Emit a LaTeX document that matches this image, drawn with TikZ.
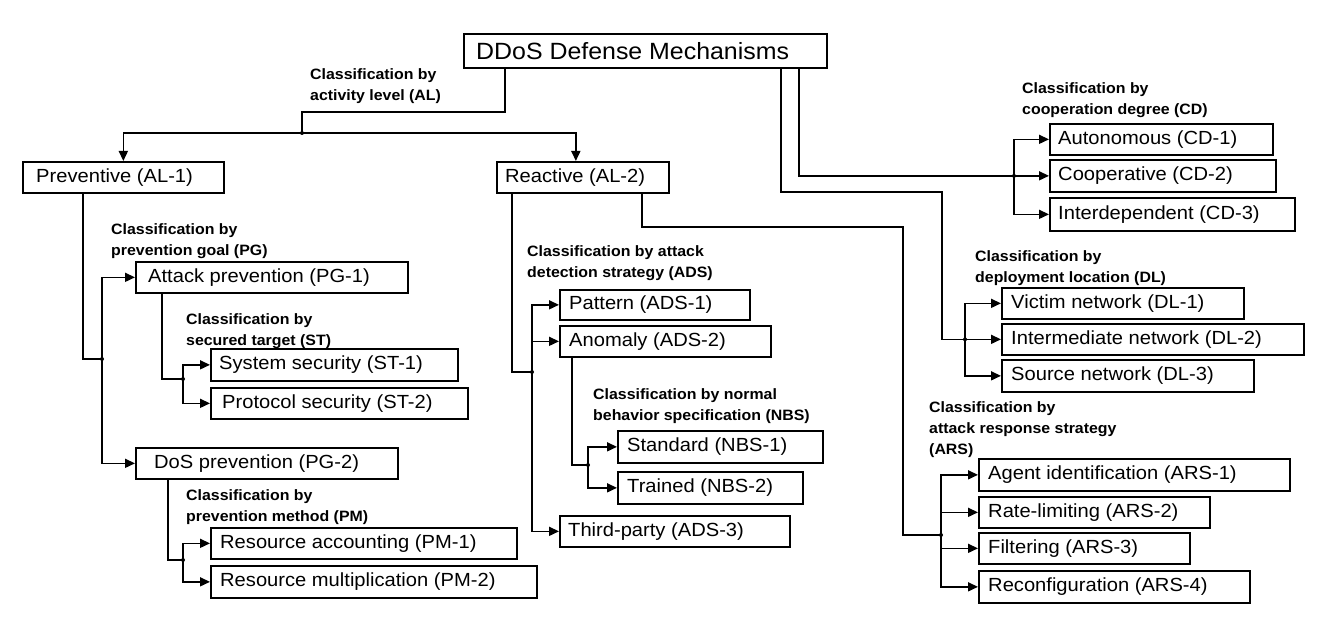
\documentclass[tikz,border=0pt]{standalone}
\usepackage{fontspec}
\setmainfont[FakeStretch=1.06]{Liberation Sans}
\usetikzlibrary{arrows.meta}
\newcommand\bx[7]{%
  \pgfmathsetmacro\bxw{#4-#2}\pgfmathsetmacro\bxh{#5-#3}%
  \node[box,anchor=north west,minimum width=\bxw pt,minimum height=\bxh pt] (#1) at (#2,#3) {};
  \node[txt,anchor=west] (#1-t) at ([xshift=#6pt]#1.west) {#7};}
\begin{document}
\begin{tikzpicture}[x=1pt,y=-1pt,
  box/.style={draw, line width=1.7pt, inner sep=0pt},
  txt/.style={inner sep=0pt, font=\fontsize{19}{23}\selectfont},
  lab/.style={inner sep=0pt, align=left, anchor=north west, font=\fontsize{15}{21}\selectfont\bfseries},
  ln/.style={line width=1.6pt},
  arr/.style={line width=1.6pt, -{Triangle[length=10pt,width=9pt]}},
  dot/.style={circle, fill, inner sep=0pt, minimum size=4pt}]
\useasboundingbox (0,0) rectangle (1322,628);
% boxes
\bx{root}{463}{33}{826}{67}{13}{\fontsize{23.5}{27}\selectfont DDoS Defense Mechanisms}
\bx{pre}{22}{161}{223}{192}{14}{Preventive (AL-1)}
\bx{rea}{496}{161}{668}{192}{9}{Reactive (AL-2)}
\bx{cd1}{1049}{123}{1272}{154}{9}{Autonomous (CD-1)}
\bx{cd2}{1049}{159}{1275}{191}{9}{Cooperative (CD-2)}
\bx{cd3}{1049}{197}{1294}{230}{9}{Interdependent (CD-3)}
\bx{dl1}{1001}{287}{1243}{318}{10}{Victim network (DL-1)}
\bx{dl2}{1001}{323}{1303}{354}{10}{Intermediate network (DL-2)}
\bx{dl3}{1001}{359}{1253}{391}{10}{Source network (DL-3)}
\bx{ars1}{978}{458}{1289}{490}{10}{Agent identification (ARS-1)}
\bx{ars2}{978}{496}{1209}{527}{10}{Rate-limiting (ARS-2)}
\bx{ars3}{978}{532}{1189}{563}{10}{Filtering (ARS-3)}
\bx{ars4}{978}{570}{1249}{602}{10}{Reconfiguration (ARS-4)}
\bx{pg1}{135}{261}{407}{292}{13}{Attack prevention (PG-1)}
\bx{st1}{210}{348}{457}{380}{9}{System security (ST-1)}
\bx{st2}{210}{387}{467}{418}{12}{Protocol security (ST-2)}
\bx{pg2}{135}{447}{397}{478}{19}{DoS prevention (PG-2)}
\bx{pm1}{210}{527}{516}{558}{10}{Resource accounting (PM-1)}
\bx{pm2}{210}{565}{536}{597}{10}{Resource multiplication (PM-2)}
\bx{ads1}{559}{289}{749}{319}{10}{Pattern (ADS-1)}
\bx{ads2}{559}{325}{770}{356}{10}{Anomaly (ADS-2)}
\bx{ads3}{559}{515}{789}{546}{9}{Third-party (ADS-3)}
\bx{nbs1}{617}{430}{822}{462}{10}{Standard (NBS-1)}
\bx{nbs2}{617}{471}{802}{503}{10}{Trained (NBS-2)}
% labels
\node[lab] (l-al) at (310,68) {Classification by\\activity level (AL)};
\node[lab] (l-cd) at (1022,82) {Classification by\\cooperation degree (CD)};
\node[lab] (l-dl) at (975,250) {Classification by\\deployment location (DL)};
\node[lab] (l-ars) at (929,401) {Classification by\\attack response strategy\\(ARS)};
\node[lab] (l-pg) at (111,223) {Classification by\\prevention goal (PG)};
\node[lab] (l-st) at (186,313) {Classification by\\secured target (ST)};
\node[lab] (l-pm) at (186,489) {Classification by\\prevention method (PM)};
\node[lab] (l-ads) at (527,245) {Classification by attack\\detection strategy (ADS)};
\node[lab] (l-nbs) at (593,388) {Classification by normal\\behavior specification (NBS)};
% coordinates
\coordinate (al1) at (505,112); \coordinate (al2) at (302,112); \coordinate (alb) at (302,133);
\coordinate (xcd) at (799,0); \coordinate (xcdb) at (1014,0);
\coordinate (xdl) at (781,0); \coordinate (dlk) at (942,192); \coordinate (xdlb) at (965,0);
\coordinate (xpg) at (83,0); \coordinate (pgj) at (102,359);
\coordinate (xst) at (162,0); \coordinate (stj) at (183,379);
\coordinate (xpm) at (168,0); \coordinate (pmj) at (183,560);
\coordinate (xads) at (512,0); \coordinate (adsj) at (532,372);
\coordinate (xnbs) at (572,0); \coordinate (nbsj) at (588,465);
\coordinate (xars) at (642,0); \coordinate (arsk) at (903,227); \coordinate (arsj) at (941,535);
% AL
\draw[ln] (root.south -| al1) -- (al1) -- (al2) -- (alb);
\draw[arr] (alb) -| (pre.north);
\draw[arr] (alb) -| ([xshift=-7pt]rea.north);
\node[dot] (d-al) at (alb) {};
% CD
\draw[arr] (root.south -| xcd) |- (cd2.west);
\draw[arr] (cd2.west -| xcdb) |- (cd1.west);
\draw[arr] (cd2.west -| xcdb) |- (cd3.west);
\node[dot] (d-cd) at (cd2.west -| xcdb) {};
% DL
\draw[arr] (root.south -| xdl) |- (dlk) |- (dl2.west);
\draw[arr] (dl2.west -| xdlb) |- (dl1.west);
\draw[arr] (dl2.west -| xdlb) |- (dl3.west);
\node[dot] (d-dl) at (dl2.west -| xdlb) {};
% PG
\draw[ln] (pre.south -| xpg) |- (pgj);
\draw[arr] (pgj) |- (pg1.west);
\draw[arr] (pgj) |- (pg2.west);
\node[dot] (d-pg) at (pgj) {};
% ST
\draw[ln] (pg1.south -| xst) |- (stj);
\draw[arr] (stj) |- (st1.west);
\draw[arr] (stj) |- (st2.west);
\node[dot] (d-st) at (stj) {};
% PM
\draw[ln] (pg2.south -| xpm) |- (pmj);
\draw[arr] (pmj) |- (pm1.west);
\draw[arr] (pmj) |- (pm2.west);
\node[dot] (d-pm) at (pmj) {};
% ADS
\draw[ln] (rea.south -| xads) |- (adsj);
\draw[arr] (adsj) |- (ads1.west);
\draw[arr] (adsj) |- (ads2.west);
\draw[arr] (adsj) |- (ads3.west);
\node[dot] (d-ads) at (adsj) {};
% NBS
\draw[ln] (ads2.south -| xnbs) |- (nbsj);
\draw[arr] (nbsj) |- (nbs1.west);
\draw[arr] (nbsj) |- (nbs2.west);
\node[dot] (d-nbs) at (nbsj) {};
% ARS
\draw[ln] (rea.south -| xars) |- (arsk) |- (arsj);
\draw[arr] (arsj) |- (ars1.west);
\draw[arr] (arsj) |- (ars2.west);
\draw[arr] (arsj) |- (ars3.west);
\draw[arr] (arsj) |- (ars4.west);
\node[dot] (d-ars) at (arsj) {};
\end{tikzpicture}
\end{document}
